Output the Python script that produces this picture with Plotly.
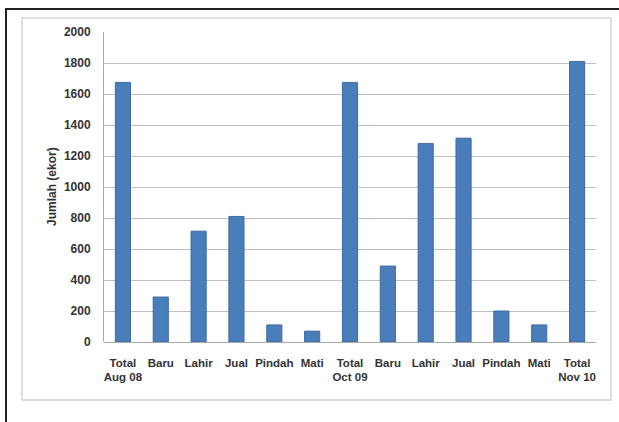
import plotly.graph_objects as go

labels = ["Total<br>Aug 08", "Baru", "Lahir", "Jual", "Pindah", "Mati",
          "Total<br>Oct 09", "Baru", "Lahir", "Jual", "Pindah", "Mati",
          "Total<br>Nov 10"]
values = [1675, 290, 715, 810, 110, 70,
          1675, 490, 1280, 1315, 200, 110,
          1810]
y_ticks = [0, 200, 400, 600, 800, 1000, 1200, 1400, 1600, 1800, 2000]

W, H = 619, 422
L, R, T, B = 104, 596, 32, 342


def px(x):
    return (x - L) / (R - L)


def py(y):
    return (B - y) / (B - T)


positions = list(range(len(labels)))

fig = go.Figure(go.Bar(
    x=positions,
    y=values,
    width=0.4,
    marker=dict(color="#4a7ebb", line=dict(color="#3d6ca6", width=1)),
))

font_family = "Liberation Sans"

fig.update_layout(
    width=W, height=H,
    margin=dict(l=L, r=W - R, t=T, b=H - B),
    paper_bgcolor="white",
    plot_bgcolor="white",
    showlegend=False,
    font=dict(family=font_family, color="#333333"),
    xaxis=dict(
        tickmode="array",
        tickvals=positions,
        ticktext=labels,
        range=[-0.5, len(labels) - 0.5],
        showgrid=False,
        showline=False,
        zeroline=False,
        ticks="",
        ticklabelstandoff=12,
        tickfont=dict(size=11.5, weight="bold", color="#333333", family=font_family),
        tickangle=0,
    ),
    yaxis=dict(
        range=[0, 2000],
        tickvals=y_ticks,
        showgrid=True,
        gridcolor="#c0c0c0",
        gridwidth=1,
        zeroline=True,
        zerolinecolor="#a8a8a8",
        zerolinewidth=1,
        showline=True,
        linecolor="#a8a8a8",
        linewidth=1,
        ticks="",
        ticklabelstandoff=10,
        tickfont=dict(size=12, weight="bold", color="#333333", family=font_family),
    ),
    annotations=[dict(
        text="Jumlah (ekor)",
        x=px(52), y=0.5, xref="paper", yref="paper",
        textangle=-90, showarrow=False,
        xanchor="center", yanchor="middle",
        font=dict(size=12, weight="bold", color="#333333", family=font_family),
    )],
    shapes=[
        dict(type="rect", xref="paper", yref="paper",
             x0=px(22), x1=px(611), y0=py(400), y1=py(18),
             line=dict(color="#d4d4d4", width=1.5), layer="below"),
        dict(type="rect", xref="paper", yref="paper",
             x0=px(6), x1=px(625), y0=py(430), y1=py(9),
             line=dict(color="#222222", width=2), layer="below"),
    ],
)

fig.write_html("out.html", config={"displayModeBar": False},
               post_script="document.body.style.margin='0';")
